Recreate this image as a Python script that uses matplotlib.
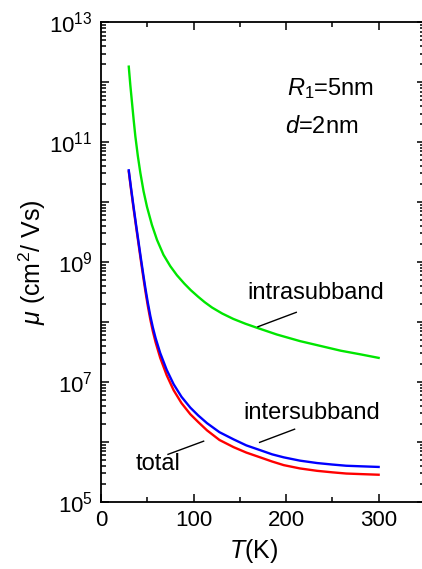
import numpy as np
import matplotlib
matplotlib.use("Agg")
from matplotlib import pyplot as plt
from matplotlib import ticker

plt.rcParams['font.family'] = ['Liberation Sans', 'DejaVu Sans']
plt.rcParams['mathtext.fontset'] = 'custom'
plt.rcParams['mathtext.rm'] = 'Liberation Sans'
plt.rcParams['mathtext.it'] = 'Liberation Sans:italic'
plt.rcParams['mathtext.bf'] = 'Liberation Sans:bold'

# Temperature (K) and log10 of mobility (cm^2/Vs)
T_intra = [30, 31.7, 33.5, 35.3, 37.1, 39.8, 42.5, 46, 49.7, 55, 60.5, 67.5, 74.9,
           82, 90, 97, 105, 112, 120, 131, 143, 156, 169, 190, 215, 237, 259, 280, 300]
logmu_intra = [12.26, 11.95, 11.66, 11.37, 11.10, 10.77, 10.49, 10.18, 9.92, 9.62,
               9.37, 9.12, 8.93, 8.78, 8.64, 8.53, 8.42, 8.33, 8.24, 8.14, 8.05,
               7.97, 7.90, 7.79, 7.68, 7.60, 7.52, 7.46, 7.40]

T_inter = [30, 32.5, 35.3, 38, 40.6, 43.3, 46, 48, 50.5, 53.3, 56, 59, 64, 71, 78.5,
           87, 96.5, 105, 114.6, 128, 143.3, 157, 172, 185, 197.5, 215, 233.6, 250,
           265, 282, 300]
logmu_inter = [10.53, 10.23, 9.91, 9.61, 9.33, 9.04, 8.76, 8.56, 8.33, 8.10, 7.91,
               7.73, 7.48, 7.20, 6.96, 6.75, 6.57, 6.44, 6.31, 6.16, 6.04, 5.94,
               5.86, 5.79, 5.74, 5.685, 5.645, 5.62, 5.60, 5.59, 5.58]
logmu_total = [10.51, 10.205, 9.88, 9.58, 9.295, 9.00, 8.715, 8.51, 8.275, 8.04,
               7.845, 7.66, 7.40, 7.11, 6.86, 6.645, 6.46, 6.33, 6.19, 6.03, 5.91,
               5.82, 5.74, 5.67, 5.61, 5.555, 5.515, 5.49, 5.47, 5.46, 5.45]

decades = [5, 6, 7, 8, 9, 10, 11, 12, 13]
x_ticks = [0, 100, 200, 300]

mu_intra = 10.0 ** np.array(logmu_intra)
mu_inter = 10.0 ** np.array(logmu_inter)
mu_total = 10.0 ** np.array(logmu_total)

fig = plt.figure(figsize=(4.22, 5.69), dpi=100)
ax = fig.add_axes([101 / 422, 1 - 501.7 / 569, 323.9 / 422, 479.4 / 569])

ax.plot(T_intra, mu_intra, color='#00e600', lw=1.7, solid_joinstyle='round')
ax.plot(T_inter, mu_total, color='#ff0000', lw=1.7, solid_joinstyle='round')
ax.plot(T_inter, mu_inter, color='#0000ff', lw=1.7, solid_joinstyle='round')

ax.set_yscale('log')
ax.set_xlim(0, 350)
ax.set_ylim(1e5, 1e13)

ax.xaxis.set_major_locator(ticker.FixedLocator(x_ticks))
ax.xaxis.set_minor_locator(ticker.MultipleLocator(50))
ax.yaxis.set_major_locator(ticker.FixedLocator([10.0 ** d for d in decades]))
ax.yaxis.set_minor_locator(ticker.LogLocator(base=10, subs=range(2, 10), numticks=50))
ax.yaxis.set_minor_formatter(ticker.NullFormatter())


def ylab(v, pos):
    e = int(round(np.log10(v)))
    return r'$\mathregular{10^{%d}}$' % e if e % 2 == 1 else ''


ax.yaxis.set_major_formatter(ticker.FuncFormatter(ylab))

ax.tick_params(which='both', direction='in', top=True, right=True, width=1.1)
ax.tick_params(which='major', length=6, labelsize=16)
ax.tick_params(which='minor', length=3.5)
ax.tick_params(axis='x', which='major', pad=6)
ax.tick_params(axis='y', which='major', pad=6)
for s in ax.spines.values():
    s.set_linewidth(1.3)

ax.set_xlabel(r'$T$(K)', fontsize=18)
ax.xaxis.set_label_coords(0.47, -0.074)
ax.set_ylabel(r'$\mu$ (cm$^2$/ Vs)', fontsize=18)
ax.yaxis.set_label_coords(-0.165, 0.5)

# labels with leader lines
ax.text(231.6, 10 ** 8.48, 'intrasubband', fontsize=17, ha='center', va='center')
ax.plot([169.6, 211], [10 ** 7.92, 10 ** 8.16], color='k', lw=1)
ax.text(227.2, 10 ** 6.48, 'intersubband', fontsize=17, ha='center', va='center')
ax.plot([171.4, 209.2], [10 ** 5.99, 10 ** 6.21], color='k', lw=1)
ax.text(61.4, 10 ** 5.63, 'total', fontsize=17, ha='center', va='center')
ax.plot([72.4, 110.9], [10 ** 5.79, 10 ** 6.01], color='k', lw=1)

ax.text(201, 10 ** 11.89, r'$R_{\mathrm{1}}$=5nm', fontsize=17, ha='left', va='center')
ax.text(199, 10 ** 11.25, r'$d$=2nm', fontsize=17, ha='left', va='center')

fig.savefig('out.png', dpi=100)
